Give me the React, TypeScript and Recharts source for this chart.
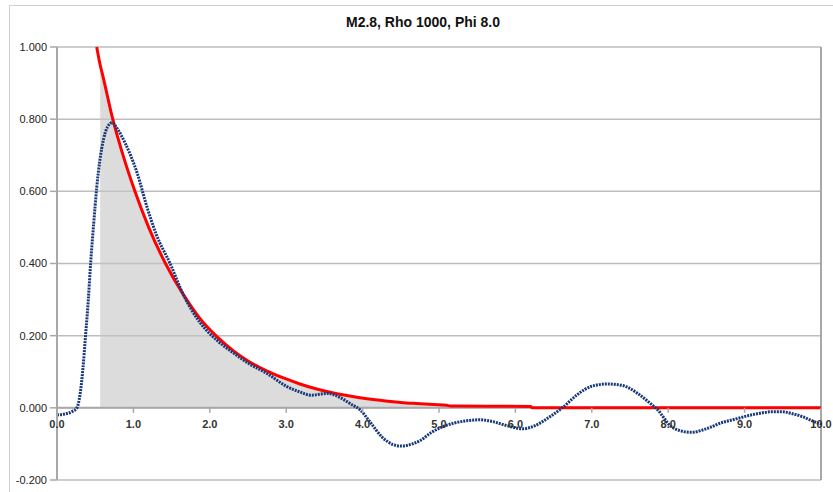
import React from 'react';
import { ComposedChart, Line, Area, XAxis, YAxis, CartesianGrid, ReferenceLine, ReferenceDot } from 'recharts';

const title = 'M2.8, Rho 1000, Phi 8.0';

const blueX = [0.0, 0.1, 0.2, 0.26, 0.3, 0.34, 0.37, 0.41, 0.44, 0.48, 0.52, 0.56, 0.61, 0.66, 0.72, 0.8, 0.9, 1.05, 1.18, 1.3, 1.48, 1.65, 1.87, 2.1, 2.31, 2.5, 2.75, 3.0, 3.18, 3.32, 3.45, 3.54, 3.71, 3.85, 3.97, 4.1, 4.25, 4.4, 4.5, 4.65, 4.76, 4.9, 5.02, 5.2, 5.4, 5.54, 5.7, 5.9, 6.1, 6.25, 6.45, 6.63, 6.8, 7.0, 7.2, 7.4, 7.6, 7.75, 7.86, 8.03, 8.15, 8.3, 8.5, 8.69, 8.9, 9.04, 9.2, 9.35, 9.5, 9.6, 9.75, 9.91, 10.0];
const blueY = [-0.02, -0.017, -0.01, 0.0, 0.035, 0.11, 0.19, 0.3, 0.4, 0.51, 0.61, 0.685, 0.745, 0.778, 0.79, 0.77, 0.73, 0.65, 0.555, 0.48, 0.4, 0.315, 0.237, 0.186, 0.152, 0.124, 0.095, 0.06, 0.044, 0.035, 0.038, 0.04, 0.028, 0.01, -0.006, -0.04, -0.08, -0.102, -0.106, -0.1, -0.09, -0.068, -0.055, -0.042, -0.035, -0.033, -0.038, -0.05, -0.058, -0.05, -0.025, 0.003, 0.035, 0.06, 0.066, 0.062, 0.04, 0.015, -0.005, -0.05, -0.063, -0.068, -0.058, -0.042, -0.03, -0.022, -0.015, -0.011, -0.011, -0.015, -0.024, -0.038, -0.045];

const redX = [0.52, 0.565, 0.6, 0.73, 0.85, 1.02, 1.2, 1.42, 1.65, 1.87, 2.1, 2.31, 2.5, 2.75, 3.0, 3.18, 3.4, 3.62, 3.85, 4.06, 4.3, 4.5, 4.7, 4.93, 5.1, 5.15, 6.2, 6.22, 10.0];
const redY = [1.0, 0.95, 0.92, 0.8, 0.71, 0.6, 0.5, 0.4, 0.315, 0.248, 0.196, 0.158, 0.13, 0.102, 0.08, 0.066, 0.052, 0.041, 0.032, 0.025, 0.019, 0.015, 0.012, 0.009, 0.007, 0.005, 0.004, 0.0, 0.0];

const grayStart = 0.565;
const grayEnd = 5.1;

const yTicks = [-0.2, 0, 0.2, 0.4, 0.6, 0.8, 1.0];
const xTicks = [0, 1, 2, 3, 4, 5, 6, 7, 8, 9, 10];
const xTickLabels = ['0.0', '1.0', '2.0', '3.0', '4.0', '5.0', '6.0', '7.0', '8.0', '9.0', '10.0'];

type Row = { x: number; blue?: number; red?: number; gray?: number };

const rowMap = new Map<number, Row>();
const getRow = (x: number): Row => {
  let r = rowMap.get(x);
  if (!r) {
    r = { x };
    rowMap.set(x, r);
  }
  return r;
};
blueX.forEach((x, i) => {
  getRow(x).blue = blueY[i];
});
redX.forEach((x, i) => {
  const r = getRow(x);
  r.red = redY[i];
  if (x >= grayStart && x <= grayEnd) r.gray = redY[i];
});
const table: Row[] = Array.from(rowMap.values()).sort((a, b) => a.x - b.x);

const FONT = '"Liberation Sans", Arial, sans-serif';
const GRID = '#bdbdbd';
const AXIS = '#a8a8a8';

const XTick = (label: string) => (props: any) => {
  const { cx, cy } = props;
  return (
    <g>
      <line x1={cx} y1={cy} x2={cx} y2={cy + 5} stroke={AXIS} strokeWidth={1.5} />
      <text x={cx} y={cy + 20} textAnchor="middle" fontFamily={FONT} fontSize={11} fontWeight="bold" fill="#333">
        {label}
      </text>
    </g>
  );
};

export default function App() {
  return (
    <div style={{ position: 'absolute', left: 0, top: 0, width: 833, height: 492, overflow: 'hidden', background: '#fff' }}>
      <div style={{ position: 'absolute', left: 9, top: 5, width: 900, height: 600, border: '1px solid #d0d0d0' }} />
      <div
        style={{
          position: 'absolute',
          left: 323,
          top: 14,
          width: 200,
          textAlign: 'center',
          fontFamily: FONT,
          fontWeight: 'bold',
          fontSize: 14,
          color: '#111',
          whiteSpace: 'nowrap',
        }}
      >
        {title}
      </div>
      <div style={{ position: 'absolute', left: 0, top: 0 }}>
        <ComposedChart width={833} height={492} data={table} margin={{ top: 47, right: 12, bottom: 12, left: 0 }}>
          <CartesianGrid vertical={false} stroke={GRID} strokeWidth={1.5} />
          <XAxis type="number" dataKey="x" domain={[0, 10]} ticks={xTicks} hide />
          <YAxis
            type="number"
            domain={[-0.2, 1.0]}
            ticks={yTicks}
            width={57}
            tickFormatter={(v: number) => v.toFixed(3)}
            axisLine={{ stroke: AXIS, strokeWidth: 2 }}
            tickLine={{ stroke: AXIS, strokeWidth: 1.5 }}
            tickSize={7}
            tickMargin={3}
            tick={{ fontFamily: FONT, fontSize: 11, fill: '#222' }}
          />
          <Area
            dataKey="gray"
            type="monotone"
            connectNulls
            stroke="none"
            fill="#c4c4c4"
            fillOpacity={0.6}
            isAnimationActive={false}
            dot={false}
            activeDot={false}
          />
          <ReferenceLine y={0} stroke={AXIS} strokeWidth={2} />
          <ReferenceLine x={10} stroke={AXIS} strokeWidth={2} />
          <Line
            dataKey="red"
            type="monotone"
            connectNulls
            stroke="#ff0000"
            strokeWidth={3}
            dot={false}
            activeDot={false}
            isAnimationActive={false}
          />
          <Line
            dataKey="blue"
            type="monotone"
            connectNulls
            stroke="#17397a"
            strokeWidth={3}
            strokeDasharray="2 1"
            dot={false}
            activeDot={false}
            isAnimationActive={false}
          />
          {xTicks.map((t, i) => (
            <ReferenceDot key={t} x={t} y={0} r={0} shape={XTick(xTickLabels[i])} />
          ))}
        </ComposedChart>
      </div>
    </div>
  );
}
